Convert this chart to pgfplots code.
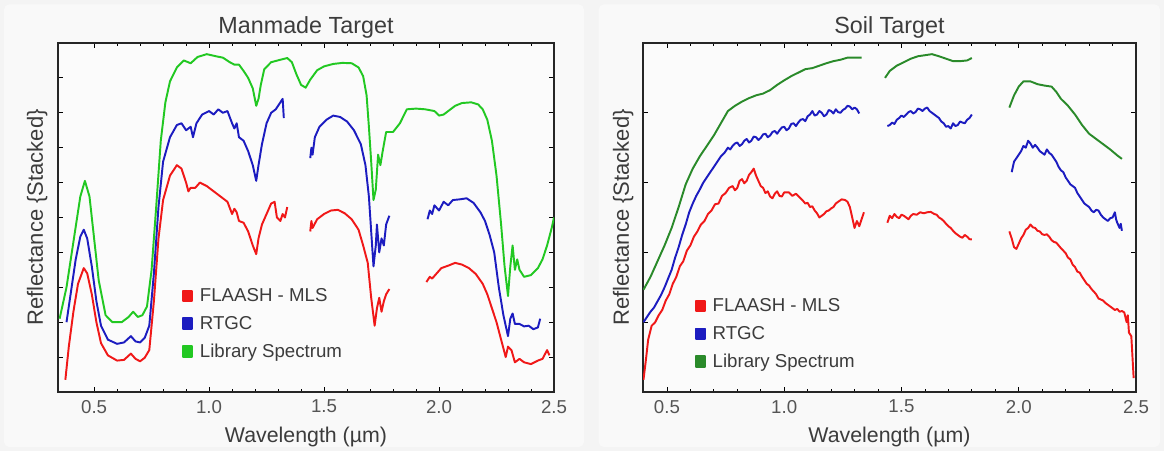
\documentclass[border=0pt]{standalone}
\usepackage{fontspec}
\setmainfont{Liberation Sans}
\usepackage{pgfplots}
\pgfplotsset{compat=1.18}
\definecolor{cred}{HTML}{F01818}
\definecolor{cblue}{HTML}{1C1CC0}
\definecolor{cgreenA}{HTML}{22C822}
\definecolor{cgreenB}{HTML}{2A8A2A}
\definecolor{txt}{HTML}{3C3C3C}
\definecolor{ticktxt}{HTML}{555555}
\pgfplotsset{
  spec/.style={
    scale only axis,
    xmin=0.343, xmax=2.5, ymin=0, ymax=10,
    xtick={0.5,1.0,1.5,2.0,2.5},
    minor x tick num=4,
    yticklabels={},
    tick align=inside,
    xtick pos=both, ytick pos=both,
    major tick length=3.5pt, minor tick length=2.5pt,
    every tick/.style={black, line width=0.6pt},
    axis line style={line width=0.9pt, black!85},
    axis background/.style={fill=white!97!gray},
    xticklabel style={font=\fontsize{14pt}{16pt}\selectfont, text=ticktxt, yshift=-2.5pt,
      /pgf/number format/fixed, /pgf/number format/fixed zerofill, /pgf/number format/precision=1, /pgf/number format/assume math mode=true},
    title style={font=\fontsize{17.5pt}{19pt}\selectfont, text=txt, at={(0.5,1)}, anchor=south, inner sep=0pt, yshift=-2.5pt},
    xlabel style={font=\fontsize{16pt}{18pt}\selectfont, text=txt, at={(axis description cs:0.5,-0.129)}, anchor=center},
    ylabel style={font=\fontsize{16.5pt}{18pt}\selectfont, text=txt, anchor=center},
    unbounded coords=jump,
    legend style={draw=none, fill=none, font=\fontsize{14pt}{16pt}\selectfont, text=txt, row sep=5.5pt, inner sep=0pt, legend cell align=left},
    legend image code/.code={\fill[#1] (0pt,-4pt) rectangle (6.5pt,4pt); \path[draw=none, fill=none] (0pt,0pt) (10.5pt,0pt);},
    every axis plot/.append style={line width=1.45pt, line join=round},
  }
}
\begin{document}
\begin{tikzpicture}
\fill[white!91!gray] (0,0) rectangle (873pt,338.25pt);
\fill[white!95!gray, rounded corners=4pt] (3pt,3pt) rectangle (438pt,335pt);
\fill[white!95!gray, rounded corners=4pt] (449pt,3pt) rectangle (870pt,335pt);
% ---------------- Manmade ----------------
\begin{axis}[spec, at={(43.5pt,44.25pt)}, anchor=south west,
  width=372pt, height=261.75pt,
  ytick={1,2,3,4,5,6,7,8,9},
  title={Manmade Target},
  xlabel={Wavelength (µm)},
  ylabel={Reflectance \{Stacked\}},
  ylabel style={at={(axis description cs:-0.042,0.5)}},
  legend style={at={(axis description cs:0.25,0.305)}, anchor=north west},
]
\addplot[color=cred] coordinates {
(0.375,0.35) (0.39,1.3) (0.41,2.3) (0.43,3.1) (0.455,3.55) (0.47,3.4) (0.49,2.8) (0.51,2.0) (0.53,1.4) (0.56,1.05) (0.60,0.9) (0.63,0.92) (0.66,1.1) (0.68,0.95) (0.70,0.88) (0.72,0.98) (0.74,1.2) (0.76,2.6) (0.78,4.4) (0.80,5.5) (0.83,6.2) (0.86,6.5) (0.88,6.4) (0.90,6.0) (0.91,5.75) (0.92,5.85) (0.94,5.85) (0.96,6.0) (0.99,5.9) (1.02,5.75) (1.05,5.6) (1.08,5.45) (1.10,5.1) (1.11,5.25) (1.12,5.15) (1.13,4.9) (1.15,4.85) (1.17,4.6) (1.19,4.2) (1.205,3.95) (1.215,4.4) (1.23,4.8) (1.25,5.1) (1.27,5.4) (1.285,5.45) (1.295,5.0) (1.31,4.9) (1.32,5.1) (1.33,5.0) (1.34,5.3)
(1.39,nan)
(1.44,4.6) (1.445,4.9) (1.45,4.7) (1.47,4.95) (1.50,5.1) (1.53,5.2) (1.56,5.22) (1.59,5.12) (1.62,4.95) (1.65,4.65) (1.67,4.2) (1.69,3.7) (1.705,2.7) (1.72,1.9) (1.73,2.4) (1.74,2.7) (1.75,2.3) (1.76,2.6) (1.77,2.8) (1.784,2.95)
(1.86,nan)
(1.945,3.15) (1.96,3.3) (1.97,3.25) (1.99,3.4) (2.01,3.55) (2.04,3.62) (2.07,3.7) (2.10,3.65) (2.13,3.55) (2.16,3.38) (2.19,3.1) (2.21,2.8) (2.23,2.4) (2.25,2.0) (2.27,1.5) (2.29,1.0) (2.30,1.3) (2.315,1.2) (2.33,0.85) (2.35,0.95) (2.37,0.85) (2.40,0.8) (2.43,0.9) (2.45,0.95) (2.47,1.2) (2.48,1.05)
};
\addlegendentry{FLAASH - MLS}
\addplot[color=cblue] coordinates {
(0.38,2.0) (0.40,2.9) (0.42,3.8) (0.44,4.45) (0.455,4.65) (0.47,4.4) (0.49,3.6) (0.51,2.6) (0.53,1.9) (0.56,1.5) (0.60,1.38) (0.63,1.42) (0.66,1.6) (0.68,1.45) (0.70,1.42) (0.72,1.55) (0.74,1.9) (0.76,3.4) (0.78,5.3) (0.80,6.6) (0.83,7.3) (0.86,7.65) (0.88,7.7) (0.90,7.5) (0.92,7.6) (0.93,7.3) (0.945,7.7) (0.97,7.95) (1.00,8.05) (1.02,7.95) (1.04,8.1) (1.06,8.0) (1.08,8.05) (1.10,7.7) (1.11,7.55) (1.12,7.7) (1.13,7.3) (1.15,7.2) (1.17,6.9) (1.19,6.5) (1.205,6.05) (1.215,6.5) (1.23,7.1) (1.25,7.7) (1.27,8.0) (1.29,8.1) (1.31,8.3) (1.32,8.4) (1.325,7.85)
(1.39,nan)
(1.44,6.7) (1.445,7.0) (1.45,6.8) (1.46,7.3) (1.48,7.6) (1.51,7.8) (1.54,7.92) (1.57,7.88) (1.60,7.75) (1.63,7.5) (1.66,7.1) (1.68,6.5) (1.695,5.6) (1.705,4.6) (1.715,3.6) (1.725,4.2) (1.73,4.8) (1.74,4.0) (1.75,4.4) (1.76,4.2) (1.77,4.8) (1.784,5.05)
(1.86,nan)
(1.95,4.95) (1.96,5.2) (1.97,5.1) (1.98,5.35) (2.00,5.2) (2.02,5.45) (2.04,5.35) (2.06,5.5) (2.09,5.52) (2.12,5.55) (2.15,5.42) (2.18,5.15) (2.20,4.9) (2.22,4.5) (2.24,4.0) (2.26,3.0) (2.28,2.2) (2.30,1.6) (2.31,2.1) (2.32,2.25) (2.33,1.95) (2.35,1.95) (2.37,1.88) (2.39,1.9) (2.41,1.8) (2.43,1.85) (2.44,2.1)
};
\addlegendentry{RTGC}
\addplot[color=cgreenA] coordinates {
(0.35,2.1) (0.38,3.0) (0.41,4.3) (0.44,5.6) (0.46,6.05) (0.48,5.6) (0.50,4.4) (0.52,3.2) (0.55,2.2) (0.58,2.0) (0.62,2.0) (0.65,2.15) (0.67,2.3) (0.69,2.15) (0.71,2.2) (0.73,2.45) (0.75,3.5) (0.77,5.3) (0.79,7.2) (0.81,8.3) (0.83,8.9) (0.86,9.3) (0.89,9.5) (0.92,9.42) (0.95,9.6) (0.99,9.68) (1.03,9.62) (1.06,9.58) (1.09,9.45) (1.11,9.38) (1.13,9.38) (1.15,9.2) (1.17,9.0) (1.19,8.7) (1.205,8.2) (1.215,8.4) (1.225,8.8) (1.24,9.25) (1.27,9.45) (1.31,9.52) (1.34,9.57) (1.36,9.45) (1.38,9.1) (1.40,8.8) (1.42,8.72) (1.44,8.95) (1.47,9.22) (1.50,9.33) (1.54,9.4) (1.58,9.43) (1.62,9.42) (1.65,9.3) (1.67,9.05) (1.685,8.5) (1.695,7.6) (1.705,6.6) (1.715,5.5) (1.725,5.8) (1.735,6.8) (1.745,6.5) (1.755,6.9) (1.77,7.45) (1.80,7.45) (1.83,7.7) (1.86,8.1) (1.90,8.12) (1.94,8.1) (1.98,8.05) (2.00,7.92) (2.02,7.95) (2.04,8.05) (2.07,8.2) (2.10,8.28) (2.14,8.3) (2.17,8.24) (2.19,8.1) (2.21,7.8) (2.23,7.2) (2.25,6.2) (2.27,4.8) (2.285,3.6) (2.30,2.75) (2.31,3.6) (2.32,4.2) (2.33,3.5) (2.34,3.8) (2.35,3.5) (2.37,3.3) (2.40,3.35) (2.43,3.55) (2.45,3.8) (2.47,4.2) (2.49,4.7) (2.50,5.0)
};
\addlegendentry{Library Spectrum}
\end{axis}
% ---------------- Soil ----------------
\begin{axis}[spec, at={(482.25pt,44.25pt)}, anchor=south west,
  width=369.75pt, height=261.75pt,
  xmin=0.398,
  ytick={2,4,6,8},
  title={Soil Target},
  xlabel={Wavelength (µm)},
  ylabel={Reflectance \{Stacked\}},
  ylabel style={at={(axis description cs:-0.04,0.5)}},
  legend style={at={(axis description cs:0.105,0.276)}, anchor=north west},
]
\addplot[color=cred] coordinates {
(0.40,0.35) (0.41,0.9) (0.42,1.5) (0.435,1.9) (0.45,2.0) (0.465,2.2) (0.48,2.35) (0.495,2.62) (0.51,2.8) (0.525,3.1) (0.54,3.3) (0.555,3.6) (0.57,3.75) (0.585,4.05) (0.60,4.2) (0.615,4.45) (0.63,4.6) (0.645,4.8) (0.66,4.9) (0.675,5.1) (0.69,5.2) (0.705,5.38) (0.72,5.4) (0.735,5.62) (0.75,5.7) (0.765,5.85) (0.78,5.9) (0.79,5.78) (0.80,5.85) (0.81,6.05) (0.82,6.1) (0.83,5.98) (0.84,6.05) (0.85,6.22) (0.86,6.3) (0.87,6.4) (0.88,6.2) (0.89,6.05) (0.90,5.9) (0.91,5.85) (0.92,5.7) (0.93,5.75) (0.94,5.6) (0.95,5.55) (0.96,5.68) (0.97,5.75) (0.98,5.62) (0.99,5.6) (1.00,5.72) (1.02,5.72) (1.035,5.62) (1.05,5.68) (1.07,5.55) (1.08,5.48) (1.09,5.4) (1.10,5.42) (1.11,5.3) (1.12,5.32) (1.13,5.2) (1.14,5.12) (1.15,5.0) (1.16,5.05) (1.17,5.1) (1.18,5.18) (1.19,5.2) (1.20,5.26) (1.21,5.3) (1.22,5.4) (1.23,5.45) (1.245,5.52) (1.26,5.5) (1.27,5.45) (1.28,5.3) (1.29,5.0) (1.30,4.7) (1.31,4.9) (1.32,4.75) (1.33,4.95) (1.34,5.15)
(1.39,nan)
(1.44,4.85) (1.45,5.05) (1.46,4.98) (1.47,5.1) (1.48,5.02) (1.49,4.98) (1.50,5.08) (1.51,5.05) (1.52,5.0) (1.53,4.95) (1.54,5.05) (1.55,5.1) (1.565,5.08) (1.58,5.15) (1.595,5.12) (1.61,5.15) (1.625,5.16) (1.64,5.1) (1.65,5.08) (1.66,5.0) (1.67,4.96) (1.68,4.9) (1.69,4.82) (1.70,4.75) (1.71,4.7) (1.72,4.62) (1.73,4.55) (1.74,4.5) (1.75,4.45) (1.76,4.42) (1.77,4.5) (1.78,4.45) (1.79,4.38) (1.80,4.37)
(1.88,nan)
(1.96,4.6) (1.97,4.4) (1.98,4.15) (1.99,4.1) (2.00,4.25) (2.01,4.4) (2.02,4.5) (2.03,4.65) (2.04,4.7) (2.05,4.8) (2.06,4.72) (2.07,4.7) (2.08,4.62) (2.09,4.6) (2.10,4.52) (2.11,4.5) (2.12,4.52) (2.13,4.45) (2.14,4.35) (2.15,4.3) (2.16,4.28) (2.17,4.2) (2.18,4.12) (2.19,4.05) (2.20,3.98) (2.21,3.85) (2.22,3.8) (2.23,3.65) (2.24,3.58) (2.25,3.45) (2.26,3.42) (2.27,3.3) (2.28,3.2) (2.29,3.1) (2.30,3.05) (2.31,2.95) (2.32,2.88) (2.33,2.8) (2.34,2.68) (2.35,2.65) (2.36,2.62) (2.37,2.55) (2.38,2.5) (2.39,2.45) (2.40,2.4) (2.41,2.35) (2.42,2.38) (2.43,2.3) (2.44,2.32) (2.45,2.28) (2.46,2.0) (2.465,2.2) (2.47,1.7) (2.48,1.6) (2.49,0.4)
};
\addlegendentry{FLAASH - MLS}
\addplot[color=cblue] coordinates {
(0.40,2.0) (0.415,2.15) (0.43,2.3) (0.445,2.42) (0.46,2.6) (0.475,2.78) (0.49,3.0) (0.505,3.25) (0.52,3.5) (0.535,3.85) (0.55,4.15) (0.565,4.5) (0.58,4.8) (0.595,5.15) (0.61,5.4) (0.625,5.62) (0.64,5.8) (0.655,6.0) (0.67,6.15) (0.685,6.3) (0.70,6.45) (0.715,6.6) (0.73,6.75) (0.745,6.85) (0.76,7.0) (0.77,6.95) (0.78,7.05) (0.79,7.12) (0.80,7.15) (0.81,7.05) (0.82,7.1) (0.83,7.2) (0.84,7.25) (0.85,7.15) (0.86,7.2) (0.87,7.32) (0.88,7.3) (0.89,7.22) (0.90,7.28) (0.91,7.38) (0.92,7.4) (0.93,7.3) (0.94,7.35) (0.95,7.45) (0.96,7.48) (0.97,7.4) (0.98,7.5) (0.99,7.58) (1.00,7.6) (1.01,7.5) (1.02,7.55) (1.03,7.68) (1.04,7.7) (1.05,7.62) (1.06,7.72) (1.07,7.8) (1.08,7.82) (1.09,7.76) (1.10,7.9) (1.11,7.95) (1.12,8.05) (1.13,7.92) (1.14,7.95) (1.15,8.05) (1.16,8.0) (1.17,7.9) (1.18,7.95) (1.19,8.08) (1.20,8.05) (1.21,7.98) (1.22,8.1) (1.23,8.02) (1.24,8.0) (1.25,8.08) (1.26,8.12) (1.27,8.2) (1.28,8.18) (1.29,8.1) (1.30,8.15) (1.31,8.1) (1.32,7.98)
(1.39,nan)
(1.44,7.62) (1.45,7.65) (1.46,7.72) (1.47,7.68) (1.48,7.8) (1.49,7.85) (1.50,7.92) (1.51,7.88) (1.52,7.95) (1.53,8.02) (1.54,8.05) (1.55,7.98) (1.56,8.02) (1.57,8.12) (1.58,8.1) (1.59,8.05) (1.60,8.12) (1.61,8.15) (1.62,8.05) (1.63,8.0) (1.64,7.95) (1.65,7.9) (1.66,7.85) (1.67,7.75) (1.68,7.7) (1.69,7.6) (1.70,7.62) (1.71,7.55) (1.72,7.7) (1.73,7.62) (1.74,7.65) (1.75,7.75) (1.76,7.72) (1.77,7.7) (1.78,7.8) (1.79,7.85) (1.80,7.95)
(1.88,nan)
(1.97,6.3) (1.98,6.6) (1.99,6.7) (2.00,6.8) (2.01,6.9) (2.02,7.05) (2.03,7.0) (2.04,7.2) (2.05,7.12) (2.06,7.0) (2.07,7.08) (2.08,7.0) (2.09,6.9) (2.10,6.85) (2.11,6.8) (2.12,6.95) (2.13,6.85) (2.14,6.8) (2.15,6.7) (2.16,6.6) (2.17,6.45) (2.18,6.35) (2.19,6.3) (2.20,6.15) (2.21,6.05) (2.22,5.95) (2.23,5.9) (2.24,5.85) (2.25,5.7) (2.26,5.6) (2.27,5.5) (2.28,5.4) (2.29,5.35) (2.30,5.3) (2.31,5.2) (2.32,5.15) (2.33,5.22) (2.34,5.2) (2.35,5.08) (2.36,5.0) (2.37,4.95) (2.38,4.9) (2.39,4.98) (2.40,5.0) (2.41,5.15) (2.415,4.95) (2.42,4.85) (2.43,4.7) (2.435,4.82) (2.44,4.62)
};
\addlegendentry{RTGC}
\addplot[color=cgreenB] coordinates {
(0.40,2.93) (0.43,3.3) (0.46,3.75) (0.49,4.2) (0.52,4.7) (0.55,5.3) (0.58,5.95) (0.61,6.4) (0.64,6.75) (0.67,7.05) (0.70,7.35) (0.73,7.7) (0.76,8.05) (0.79,8.2) (0.82,8.32) (0.85,8.42) (0.88,8.5) (0.91,8.55) (0.94,8.65) (0.97,8.8) (1.00,8.93) (1.03,9.05) (1.06,9.15) (1.09,9.25) (1.12,9.28) (1.15,9.35) (1.18,9.42) (1.21,9.48) (1.24,9.52) (1.27,9.58) (1.30,9.58) (1.33,9.58)
(1.39,nan)
(1.43,9.0) (1.45,9.2) (1.48,9.35) (1.51,9.45) (1.54,9.55) (1.57,9.62) (1.60,9.65) (1.63,9.68) (1.66,9.62) (1.69,9.55) (1.72,9.48) (1.75,9.48) (1.78,9.5) (1.80,9.57)
(1.88,nan)
(1.96,8.15) (1.98,8.5) (2.00,8.75) (2.02,8.9) (2.05,8.9) (2.08,8.82) (2.11,8.78) (2.14,8.75) (2.16,8.6) (2.18,8.4) (2.21,8.2) (2.24,7.95) (2.27,7.65) (2.30,7.4) (2.33,7.25) (2.36,7.1) (2.39,6.95) (2.42,6.78) (2.44,6.68)
};
\addlegendentry{Library Spectrum}
\end{axis}
\end{tikzpicture}
\end{document}
